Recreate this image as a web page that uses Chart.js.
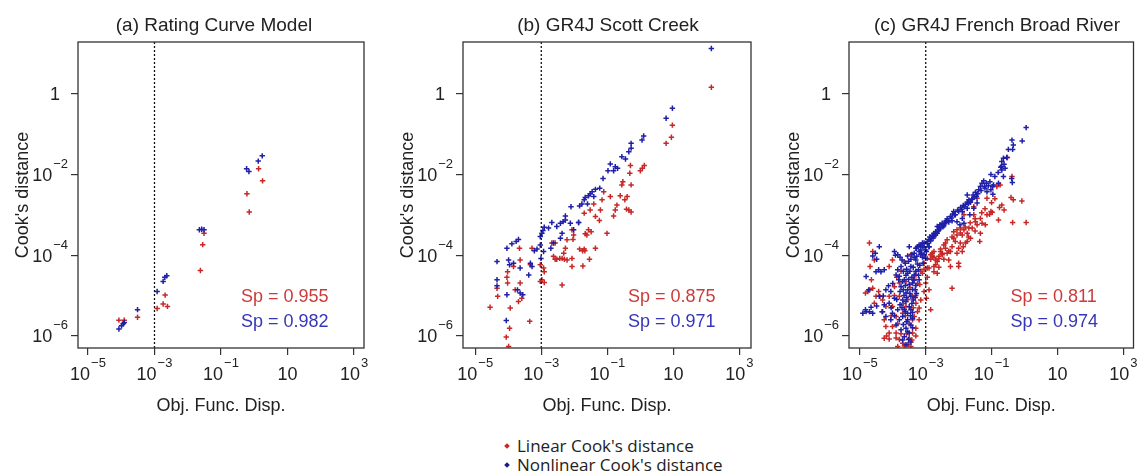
<!DOCTYPE html>
<html lang="en">
<head>
<meta charset="UTF-8">
<title>Cook's distance vs objective function displacement</title>
<script src="https://cdn.jsdelivr.net/npm/chart.js"></script>
<style>
  body { margin: 0; background: #fff; width: 1139px; height: 472px; overflow: hidden; position: relative; }
  canvas { position: absolute; top: 0; }
  #legend { position: absolute; left: 503px; top: 436px; font-family: "Open Sans", sans-serif; font-size: 17px; color: #222; line-height: 19px; white-space: nowrap; }
  #legend .mk { display: inline-block; width: 4px; height: 4px; transform: rotate(45deg); margin: 0 8px 3px 2px; vertical-align: middle; }
</style>
</head>
<body>
<canvas id="panelA" width="380" height="420" style="left:0px"></canvas>
<canvas id="panelB" width="380" height="420" style="left:380px"></canvas>
<canvas id="panelC" width="379" height="420" style="left:760px"></canvas>
<div id="legend"></div>

<script>
  // axis ticks (values) and their labels as [base, exponent]
  const xTicks = [1e-5, 1e-3, 1e-1, 10, 1e3];
  const xTickLabels = [['10', '\u22125'], ['10', '\u22123'], ['10', '\u22121'], ['10', ''], ['10', '3']];
  const yTicks = [1, 1e-2, 1e-4, 1e-6];
  const yTickLabels = [['1', ''], ['10', '\u22122'], ['10', '\u22124'], ['10', '\u22126']];
  const cutoffX = 1e-3;

  const seriesNames = ["Linear Cook's distance", "Nonlinear Cook's distance"];
  const panelTitles = ['(a) Rating Curve Model', '(b) GR4J Scott Creek', '(c) GR4J French Broad River'];
  const spLinear = ['0.955', '0.875', '0.811'];
  const spNonlinear = ['0.982', '0.971', '0.974'];

  // points as [log10(Obj. Func. Disp.), log10(Cook's distance)]
  const aLinear = [[-4.07,-5.61],[-3.91,-5.61],[-3.51,-5.54],[-2.92,-5.32],[-2.74,-5.21],[-2.61,-5.27],[-2.68,-4.99],
    [-1.62,-4.38],[-1.55,-3.74],[-1.51,-3.46],[-0.22,-2.48],[-0.15,-2.93],[0.13,-1.86],[0.25,-2.16]];
  const aNonlinear = [[-4.07,-5.83],[-3.99,-5.75],[-3.94,-5.70],[-3.91,-5.67],[-3.51,-5.35],[-2.92,-4.90],[-2.74,-4.65],
    [-2.69,-4.55],[-2.63,-4.51],[-1.65,-3.37],[-1.58,-3.36],[-1.51,-3.37],[-0.23,-1.86],[-0.16,-1.93],[0.12,-1.67],[0.24,-1.54]];

  const bLinear = [[2.15,0.16],[0.97,-0.78],[0.94,-1.08],[0.78,-1.23],[0.12,-1.78],[0.06,-1.85],[0.00,-1.91],[-0.30,-1.78],
    [-0.32,-1.97],[-0.28,-2.26],[-0.53,-2.18],[-0.56,-2.26],[-0.40,-2.55],[-0.47,-2.63],[-0.35,-2.88],[-0.28,-2.93],[-0.42,-2.86],
    [-0.61,-2.53],[-0.71,-2.76],[-0.76,-2.88],[-0.81,-3.03],[-0.91,-2.55],[-1.11,-2.43],[-1.16,-2.63],[-1.21,-2.88],[-1.24,-3.14],
    [-1.41,-2.73],[-1.36,-3.04],[-1.52,-2.88],[-1.62,-3.50],[-1.67,-3.47],[-1.57,-3.37],[-1.49,-3.42],[-1.70,-2.96],[-1.87,-3.19],
    [-2.02,-3.50],[-2.04,-3.61],[-2.07,-3.37],[-1.70,-3.85],[-1.75,-3.89],[-1.84,-3.85],[-1.68,-3.89],[-1.36,-3.83],[-1.01,-3.46],
    [-1.54,-4.10],[-2.22,-3.62],[-2.27,-3.83],[-2.32,-3.95],[-2.37,-4.08],[-2.44,-4.08],[-2.53,-4.10],[-2.63,-4.03],[-2.58,-4.10],
    [-2.30,-4.10],[-2.22,-4.12],[-2.07,-4.08],[-2.07,-4.28],[-1.74,-4.27],[-2.37,-4.74],[-2.68,-3.70],[-2.58,-3.70],[-2.93,-4.32],
    [-2.91,-4.41],[-2.98,-4.61],[-3.03,-4.65],[-2.91,-4.68],[-3.03,-4.24],[-3.28,-3.83],[-3.33,-4.24],[-3.66,-3.83],[-3.64,-4.12],
    [-3.64,-4.69],[-3.59,-5.07],[-3.69,-5.15],[-3.84,-4.28],[-3.79,-4.86],[-4.02,-4.41],[-4.04,-4.55],[-4.02,-4.69],[-3.94,-5.31],
    [-4.34,-4.82],[-4.32,-5.02],[-4.55,-5.29],[-4.06,-6.03],[-3.96,-5.81],[-3.35,-5.64],[-3.99,-6.26]];
  const bNonlinear = [[2.15,1.12],[0.97,-0.36],[0.78,-0.61],[0.10,-1.05],[0.05,-1.15],[-0.28,-1.23],[-0.28,-1.35],[-0.35,-1.44],
    [-0.56,-1.56],[-0.45,-1.62],[-0.91,-1.74],[-0.76,-1.81],[-0.69,-1.85],[-0.81,-1.91],[-0.98,-1.91],[-1.13,-2.10],[-1.23,-2.34],
    [-1.36,-2.37],[-1.46,-2.43],[-1.52,-2.48],[-1.41,-2.55],[-1.57,-2.53],[-1.67,-2.57],[-1.70,-2.63],[-1.77,-2.73],[-1.84,-2.78],
    [-1.60,-2.73],[-2.10,-2.80],[-2.27,-3.03],[-2.27,-3.13],[-2.34,-3.17],[-2.42,-3.21],[-2.53,-3.29],[-2.68,-3.19],[-2.78,-3.33],
    [-2.91,-3.31],[-2.95,-3.39],[-2.98,-3.46],[-3.03,-3.54],[-2.12,-3.21],[-2.02,-3.37],[-1.87,-3.19],[-2.37,-3.46],[-2.42,-3.58],
    [-2.63,-3.70],[-2.71,-3.83],[-3.03,-3.75],[-3.13,-3.85],[-3.21,-3.89],[-3.69,-3.61],[-3.76,-3.66],[-4.04,-3.83],[-3.89,-3.72],
    [-3.99,-4.12],[-3.96,-4.24],[-4.34,-4.16],[-3.84,-4.20],[-3.64,-4.32],[-3.33,-4.20],[-3.28,-4.28],[-3.38,-4.49],[-4.34,-4.61],
    [-4.34,-4.76],[-4.04,-4.98],[-3.72,-4.86],[-3.64,-4.94],[-3.56,-4.98],[-4.06,-5.62],[-3.01,-4.08],[-2.93,-3.91]];

  const cLinear = [[-0.52,-1.58],[-0.38,-2.05],[-0.41,-2.57],[-0.08,-2.66],[-0.36,-3.19],[0.05,-3.19],[-0.74,-2.26],[-0.84,-2.30],
    [-0.69,-2.76],[-0.76,-2.82],[-0.62,-2.88],[-0.79,-3.13],[-1.02,-2.92],[-1.06,-2.99],[-0.98,-2.94],[-1.14,-3.00],[-1.29,-3.21],
    [-1.19,-3.25],[-1.34,-3.46],[-1.36,-3.66],[-1.54,-3.00],[-1.49,-3.17],[-1.44,-3.25],[-1.59,-3.33],[-1.69,-3.33],[-1.74,-3.46],
    [-1.84,-3.37],[-1.89,-3.50],[-1.94,-3.33],[-1.74,-3.66],[-1.64,-3.58],[-1.79,-3.70],[-1.86,-3.79],[-2.00,-3.83],[-1.89,-3.91],
    [-2.05,-3.95],[-2.10,-3.66],[-2.15,-3.58],[-2.20,-3.79],[-2.25,-3.91],[-2.35,-3.95],[-2.40,-3.83],[-2.50,-3.99],[-2.55,-3.91],
    [-2.60,-4.08],[-2.65,-4.16],[-2.70,-4.24],[-2.75,-3.91],[-2.80,-4.03],[-2.85,-3.99],[-2.95,-4.08],[-3.05,-4.20],[-2.90,-4.32],
    [-2.75,-4.41],[-2.30,-4.12],[-2.00,-4.28],[-2.25,-4.28],[-2.45,-3.75],[-2.35,-3.62],[-2.15,-3.42],[-2.05,-3.37],[-1.54,-2.80],
    [-1.44,-2.59],[-1.34,-3.09],[-0.34,-2.63],[-1.84,-3.00],[-1.14,-2.59],
    [-2.85,-4.10],[-2.75,-4.05],[-2.55,-3.85],[-2.40,-3.70],[-2.20,-3.55],[-2.05,-3.50],[-1.95,-3.45],[-1.80,-3.30],[-1.65,-3.20],
    [-1.50,-3.10],[-1.30,-2.95],[-1.20,-2.85],[-1.00,-2.70],[-0.90,-2.60],[-2.60,-4.30],[-2.45,-4.10],[-2.30,-3.90],[-1.95,-3.70],
    [-1.70,-3.55],[-1.50,-3.40],
    [-4.71,-3.70],[-4.61,-3.91],[-4.69,-4.28],[-4.65,-4.61],[-4.76,-4.90],[-4.83,-4.94],[-4.61,-4.82],[-4.43,-4.90],[-4.39,-5.02],
    [-4.31,-5.11],[-4.56,-5.19],[-4.51,-5.02],[-4.21,-5.27],[-4.33,-5.40],[-4.26,-5.60],[-4.21,-5.77],[-4.11,-5.93],[-4.26,-6.06],
    [-4.19,-6.00],[-4.11,-6.08],[-4.01,-5.77],[-3.90,-5.93],[-3.80,-6.09],[-3.85,-6.26],[-3.70,-6.18],[-3.55,-6.22],[-3.45,-6.26],
    [-3.50,-6.06],[-3.40,-5.93],[-3.30,-5.81],[-3.35,-5.52],[-3.25,-5.40],[-3.20,-5.31],[-3.15,-5.11],[-3.05,-4.90],[-3.00,-4.69],
    [-2.90,-4.86],[-2.85,-5.35],[-2.98,-5.07],[-2.70,-4.12],[-2.60,-4.03],[-2.50,-3.95],[-2.75,-4.28],[-2.65,-4.45],[-2.80,-3.95],
    [-2.95,-4.32],[-3.10,-4.45],[-3.18,-4.73],[-3.30,-5.19],[-3.60,-5.27],[-3.70,-5.44],[-3.90,-5.52],[-4.01,-5.27],[-4.11,-5.02],
    [-3.95,-4.78],[-3.80,-5.02],[-3.30,-4.49],[-3.45,-3.99],[-3.65,-4.16],[-4.01,-4.12],[-4.11,-4.28],[-2.20,-4.82],[-2.00,-4.20],
    [-3.80,-4.69],[-3.40,-5.02],[-4.56,-4.12],[-4.71,-4.86],
    [-3.62,-5.50],[-3.50,-5.70],[-3.40,-5.60],[-3.58,-5.95],[-3.42,-6.10],[-3.65,-6.25],[-3.75,-5.95],[-3.85,-5.70],[-3.68,-5.20],
    [-3.55,-5.10],[-3.38,-5.30],[-3.30,-5.00],[-3.48,-4.80],[-3.60,-4.65],[-3.75,-4.40],[-3.88,-4.55],[-3.95,-5.00],[-4.05,-5.50],
    [-3.90,-6.05],[-3.35,-4.60],[-3.25,-4.70],[-3.15,-4.40],[-3.05,-4.35],[-2.95,-4.55],[-3.20,-5.60],[-3.30,-6.00],[-3.52,-6.20]];
  const cNonlinear = [[0.05,-0.84],[-0.38,-1.15],[-0.07,-1.17],[-0.34,-1.27],[-0.49,-1.38],[-0.36,-1.38],[-0.64,-1.60],[-0.54,-1.58],
    [-0.69,-1.68],[-0.62,-1.75],[-0.72,-1.82],[-0.59,-1.85],[-0.69,-1.89],[-1.02,-2.00],[-0.64,-2.05],[-0.39,-2.10],[-0.37,-2.20],
    [-1.24,-2.16],[-1.29,-2.22],[-1.16,-2.22],[-1.22,-2.30],[-0.97,-2.30],[-1.02,-2.38],[-0.96,-2.49],[-1.34,-2.30],[-1.39,-2.38],
    [-1.49,-2.44],[-1.56,-2.51],[-1.46,-2.55],[-1.59,-2.61],[-1.69,-2.63],[-1.74,-2.69],[-1.64,-2.69],[-1.79,-2.74],[-1.86,-2.77],
    [-1.94,-2.82],[-2.03,-2.88],[-1.89,-2.92],[-1.74,-2.84],[-2.15,-2.92],[-2.10,-3.00],[-2.25,-3.04],[-2.35,-3.10],[-2.20,-3.15],
    [-2.30,-3.18],[-2.40,-3.18],[-2.50,-3.21],[-2.45,-3.27],[-2.57,-3.25],[-2.65,-3.29],[-2.60,-3.37],[-2.70,-3.42],[-2.75,-3.46],
    [-2.80,-3.51],[-2.83,-3.58],[-2.90,-3.62],[-2.95,-3.66],[-3.05,-3.70],[-3.15,-3.75],[-3.25,-3.79],[-3.30,-3.83],[-3.10,-3.79],
    [-2.90,-3.79],[-3.00,-3.87],[-3.20,-3.91],[-3.15,-3.99],[-3.27,-4.03],[-2.75,-3.54],[-2.65,-3.46],[-2.05,-3.17],[-1.89,-3.09],
    [-1.84,-3.21],[-1.96,-3.25],[-1.66,-3.00],[-1.54,-2.84],[-1.44,-2.71],[-1.74,-2.51],[-1.14,-2.43],[-0.94,-2.26],[-0.79,-2.22],
    [-3.05,-3.80],[-2.95,-3.72],[-2.85,-3.65],[-2.78,-3.58],[-2.70,-3.50],[-2.62,-3.40],[-2.55,-3.33],[-2.48,-3.30],[-2.42,-3.22],
    [-2.32,-3.14],[-2.22,-3.08],[-2.12,-3.00],[-2.00,-2.92],[-1.92,-2.86],[-1.82,-2.80],[-1.70,-2.72],[-1.60,-2.62],[-1.52,-2.56],
    [-1.42,-2.48],[-1.32,-2.40],[-1.20,-2.34],[-1.10,-2.28],[-1.05,-2.18],[-0.90,-2.05],[-0.80,-1.95],[-0.70,-1.80],[-2.88,-3.55],
    [-2.60,-3.30],[-2.38,-3.15],[-2.18,-2.98],
    [-4.41,-3.79],[-4.53,-3.95],[-4.61,-4.02],[-4.49,-4.10],[-4.81,-4.53],[-4.73,-4.86],[-4.81,-5.40],[-4.66,-5.29],[-4.61,-5.44],
    [-4.43,-4.36],[-4.36,-4.41],[-4.26,-4.36],[-4.51,-4.41],[-4.29,-5.01],[-4.49,-5.26],[-4.31,-5.40],[-4.21,-5.52],[-4.06,-5.60],
    [-4.01,-5.44],[-3.95,-3.91],[-3.85,-3.99],[-3.78,-4.05],[-3.75,-4.28],[-3.85,-4.36],[-3.90,-4.49],[-3.82,-4.61],[-3.75,-4.78],
    [-3.68,-4.86],[-3.60,-4.94],[-3.55,-4.86],[-3.50,-4.73],[-3.45,-5.02],[-3.38,-5.11],[-3.60,-5.15],[-3.70,-5.11],[-3.78,-5.23],
    [-3.85,-5.35],[-3.65,-5.35],[-3.55,-5.44],[-3.45,-5.35],[-3.55,-5.60],[-3.45,-5.73],[-3.60,-5.81],[-3.50,-5.93],[-3.65,-6.02],
    [-3.52,-6.09],[-3.60,-6.22],[-3.40,-5.56],[-3.35,-3.95],[-3.28,-3.83],[-3.20,-3.75],[-3.10,-3.70],[-3.15,-3.87],[-3.05,-3.99],
    [-2.98,-3.91],[-2.90,-3.79],[-3.30,-4.12],[-3.22,-4.36],[-3.35,-4.49],[-3.20,-4.61],[-3.08,-4.20],[-3.00,-4.08],[-3.50,-3.79],
    [-3.45,-4.28],[-3.55,-4.45],[-3.40,-4.69],[-3.65,-4.61],[-3.72,-4.12],[-3.32,-4.86],[-3.80,-5.60],[-3.90,-5.73],[-3.75,-5.85],
    [-3.70,-5.52],[-3.95,-5.07],[-4.06,-4.90],[-4.13,-4.76],[-4.11,-5.19],[-4.21,-4.86],[-4.26,-5.23],[-4.41,-5.02],[-4.91,-5.44],
    [-4.83,-5.35],[-4.71,-5.40],
    [-3.62,-4.20],[-3.58,-4.35],[-3.48,-4.40],[-3.42,-4.55],[-3.52,-4.60],[-3.62,-4.75],[-3.48,-4.95],[-3.40,-4.85],[-3.58,-5.05],
    [-3.66,-5.00],[-3.42,-5.20],[-3.50,-5.28],[-3.62,-5.40],[-3.72,-5.30],[-3.40,-5.42],[-3.46,-5.50],[-3.58,-5.65],[-3.68,-5.72],
    [-3.40,-5.80],[-3.55,-5.90],[-3.45,-6.15],[-3.70,-6.10],[-3.38,-4.30],[-3.30,-4.40],[-3.25,-4.22],[-3.35,-4.05],[-3.42,-3.98],
    [-3.55,-4.02],[-3.68,-4.40],[-3.80,-4.52],[-3.78,-4.90],[-3.88,-5.10],[-3.70,-4.65],[-3.60,-4.50],[-3.52,-4.15],[-3.45,-4.10],
    [-3.36,-4.62],[-3.30,-4.75],[-3.28,-4.95],[-3.32,-5.05],[-3.92,-4.00],[-4.00,-4.70],[-4.05,-5.30],[-3.95,-5.50],[-3.22,-4.50],
    [-3.18,-4.25],[-3.10,-4.05],[-3.12,-3.95]];

  const yRange = [-6.3, 1.28];
  const red = '#c62828';
  const blue = '#1f1fa8';
  const textFont = '"Liberation Sans", Arial, sans-serif';

  const panels = [
    { id: 'panelA', w: 380, area: { l: 78, r: 364, t: 42, b: 348 }, xRange: [-5.3, 3.3], titleX: 214, linear: aLinear, nonlinear: aNonlinear },
    { id: 'panelB', w: 380, area: { l: 83, r: 371, t: 42, b: 348 }, xRange: [-5.37, 3.35], titleX: 228, linear: bLinear, nonlinear: bNonlinear },
    { id: 'panelC', w: 379, area: { l: 89, r: 376, t: 42, b: 348 }, xRange: [-5.33, 3.31], titleX: 237, linear: cLinear, nonlinear: cNonlinear }
  ];

  function toPoints(list) {
    return list.map(p => ({ x: Math.pow(10, p[0]), y: Math.pow(10, p[1]) }));
  }

  function decorPlugin(i, p) {
    return {
      id: 'decor' + i,
      afterDraw(chart) {
        const ctx = chart.ctx;
        const a = chart.chartArea;
        const xs = chart.scales.x;
        const ys = chart.scales.y;
        ctx.save();
        ctx.strokeStyle = '#333';
        ctx.lineWidth = 1.3;
        ctx.strokeRect(a.left, a.top, a.right - a.left, a.bottom - a.top);

        ctx.fillStyle = '#222';
        ctx.textBaseline = 'alphabetic';
        ctx.textAlign = 'center';
        ctx.font = '19px ' + textFont;
        ctx.fillText(panelTitles[i], p.titleX, 31);

        // x tick labels with superscript exponents
        xTicks.forEach((v, k) => {
          const px = xs.getPixelForValue(v);
          const [base, exp] = xTickLabels[k];
          ctx.font = '18px ' + textFont;
          const wb = ctx.measureText(base).width;
          ctx.font = '13px ' + textFont;
          const we = exp ? ctx.measureText(exp).width + 1 : 0;
          const x0 = px - (wb + we) / 2;
          ctx.textAlign = 'left';
          ctx.font = '18px ' + textFont;
          ctx.fillText(base, x0, a.bottom + 32);
          if (exp) {
            ctx.font = '13px ' + textFont;
            ctx.fillText(exp, x0 + wb + 1, a.bottom + 19);
          }
        });

        // y tick labels
        yTicks.forEach((v, k) => {
          const py = ys.getPixelForValue(v);
          const [base, exp] = yTickLabels[k];
          ctx.textAlign = 'right';
          if (!exp) {
            ctx.font = '18px ' + textFont;
            ctx.fillText(base, a.left - 18, py + 6.5);
            return;
          }
          ctx.font = '13px ' + textFont;
          const we = ctx.measureText(exp).width;
          ctx.fillText(exp, a.left - 10, py - 6.5);
          ctx.font = '18px ' + textFont;
          ctx.fillText(base, a.left - 11 - we, py + 6.5);
        });

        // axis titles
        ctx.font = '18px ' + textFont;
        ctx.textAlign = 'center';
        ctx.fillText('Obj. Func. Disp.', (a.left + a.right) / 2, a.bottom + 63);
        ctx.save();
        ctx.translate(a.left - 50, (a.top + a.bottom) / 2);
        ctx.rotate(-Math.PI / 2);
        ctx.fillText("Cook's distance", 0, 0);
        ctx.restore();

        // Spearman correlations
        ctx.textAlign = 'left';
        ctx.fillStyle = '#cc3b3b';
        ctx.fillText('Sp = ' + spLinear[i], a.right - 123, a.bottom - 46);
        ctx.fillStyle = '#3636b8';
        ctx.fillText('Sp = ' + spNonlinear[i], a.right - 123, a.bottom - 21);
        ctx.restore();
      }
    };
  }

  panels.forEach((p, i) => {
    const H = 420;
    new Chart(document.getElementById(p.id), {
      type: 'scatter',
      data: {
        datasets: [
          {
            data: [{ x: cutoffX, y: Math.pow(10, yRange[0]) }, { x: cutoffX, y: Math.pow(10, yRange[1]) }],
            showLine: true, borderColor: '#111', borderWidth: 1.3, borderDash: [2, 2], pointRadius: 0
          },
          {
            label: seriesNames[1], data: toPoints(p.nonlinear),
            pointStyle: 'cross', pointRadius: 2.7, borderWidth: 1.5, borderColor: blue, backgroundColor: blue
          },
          {
            label: seriesNames[0], data: toPoints(p.linear),
            pointStyle: 'cross', pointRadius: 2.7, borderWidth: 1.5, borderColor: red, backgroundColor: red
          }
        ]
      },
      options: {
        responsive: false,
        animation: false,
        events: [],
        layout: { padding: { left: 0, top: p.area.t, right: p.w - p.area.r, bottom: 0 } },
        plugins: { legend: { display: false }, tooltip: { enabled: false } },
        scales: {
          x: {
            type: 'logarithmic', bounds: 'data',
            min: Math.pow(10, p.xRange[0]), max: Math.pow(10, p.xRange[1]),
            afterBuildTicks: s => { s.ticks = xTicks.map(v => ({ value: v })); },
            afterFit: s => { s.height = H - p.area.b; },
            ticks: { display: false },
            border: { display: false },
            grid: { display: true, drawOnChartArea: false, drawTicks: true, tickLength: 7, color: '#333', lineWidth: 1.2 }
          },
          y: {
            type: 'logarithmic', bounds: 'data',
            min: Math.pow(10, yRange[0]), max: Math.pow(10, yRange[1]),
            afterBuildTicks: s => { s.ticks = yTicks.map(v => ({ value: v })); },
            afterFit: s => { s.width = p.area.l; },
            ticks: { display: false },
            border: { display: false },
            grid: { display: true, drawOnChartArea: false, drawTicks: true, tickLength: 7, color: '#333', lineWidth: 1.2 }
          }
        }
      },
      plugins: [decorPlugin(i, p)]
    });
  });

  // shared legend under the panels
  const legend = document.getElementById('legend');
  [[seriesNames[0], red], [seriesNames[1], '#1c1c80']].forEach(([name, color]) => {
    const row = document.createElement('div');
    row.innerHTML = '<span class="mk" style="background:' + color + '"></span>' + name;
    legend.appendChild(row);
  });
</script>
</body>
</html>
